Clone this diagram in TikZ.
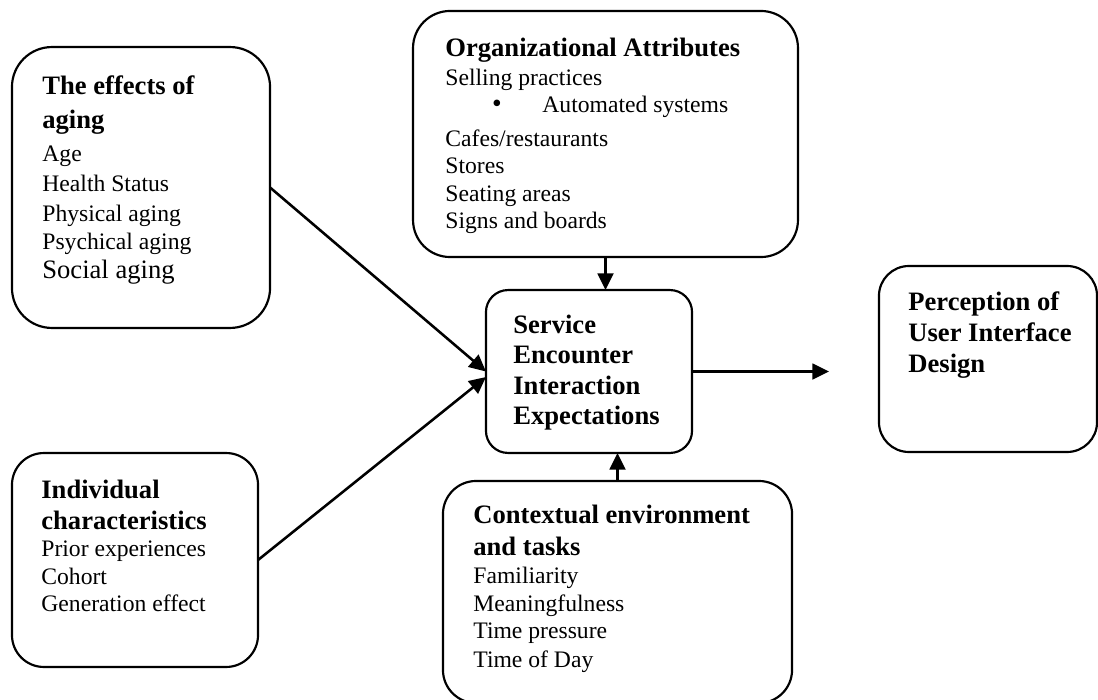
\documentclass[tikz,border=0pt]{standalone}
\usepackage{fontspec}
\setmainfont{Liberation Serif}
\usetikzlibrary{arrows.meta}
\begin{document}
\begin{tikzpicture}[x=0.5076pt,y=-0.5076pt,
  box/.style={draw,line width=1.1pt,rectangle,inner sep=0pt,outer sep=0pt},
  ln/.style={anchor=base west,inner sep=0pt,font=\fontsize{12}{14}\selectfont},
  big/.style={anchor=base west,inner sep=0pt,font=\fontsize{13.5}{16}\selectfont},
  hd/.style={anchor=base west,inner sep=0pt,font=\fontsize{13.5}{16}\selectfont\bfseries},
  arr/.style={line width=1.3pt,-{Triangle[length=8.5pt,width=8pt]}}]
\useasboundingbox (0,0) rectangle (1098,700);
% boxes
\node[box,rounded corners=20.3pt,minimum width=131pt,minimum height=142.6pt] (A) at (141,187.5) {};
\node[box,rounded corners=18.8pt,minimum width=195.4pt,minimum height=124.9pt] (O) at (605.5,134) {};
\node[box,rounded corners=16.2pt,minimum width=124.9pt,minimum height=108.6pt] (B) at (135,560) {};
\node[box,rounded corners=11.2pt,minimum width=104.6pt,minimum height=82.7pt] (C) at (589,371.5) {};
\node[box,rounded corners=15.2pt,minimum width=110.7pt,minimum height=94.4pt] (D) at (988,359) {};
\node[box,rounded corners=16.8pt,minimum width=177.2pt,minimum height=112.7pt] (E) at (617.5,592) {};
% texts: effects of aging
\node[hd] (a1) at (42,95) {The effects of};
\node[hd] (a2) at (42,129) {aging};
\node[ln] (a3) at (42,162) {Age};
\node[ln] (a4) at (42,192) {Health Status};
\node[ln] (a5) at (42,221) {Physical aging};
\node[ln] (a6) at (42,249) {Psychical aging};
\node[big] (a7) at (42,278) {Social aging};
% organizational attributes
\node[hd] (o1) at (445,57) {Organizational Attributes};
\node[ln] (o2) at (445,86) {Selling practices};
\node[ln,anchor=base,font=\fontsize{14}{16}\selectfont] (o3) at (497,113) {•};
\node[ln] (o4) at (542,113) {Automated systems};
\node[ln] (o5) at (445,147) {Cafes/restaurants};
\node[ln] (o6) at (445,174) {Stores};
\node[ln] (o7) at (445,202) {Seating areas};
\node[ln] (o8) at (445,229) {Signs and boards};
% individual characteristics
\node[hd] (b1) at (41,498) {Individual};
\node[hd] (b2) at (41,529) {characteristics};
\node[ln] (b3) at (41,556) {Prior experiences};
\node[ln] (b4) at (41,584) {Cohort};
\node[ln] (b5) at (41,611) {Generation effect};
% service encounter
\node[hd] (c1) at (513,333) {Service};
\node[hd] (c2) at (513,363) {Encounter};
\node[hd] (c3) at (513,394) {Interaction};
\node[hd] (c4) at (513,424) {Expectations};
% perception
\node[hd] (d1) at (908,310) {Perception of};
\node[hd] (d2) at (908,341) {User Interface};
\node[hd] (d3) at (908,372) {Design};
% contextual
\node[hd] (e1) at (473,523) {Contextual environment};
\node[hd] (e2) at (473,555) {and tasks};
\node[ln] (e3) at (473,583) {Familiarity};
\node[ln] (e4) at (473,611) {Meaningfulness};
\node[ln] (e5) at (473,638) {Time pressure};
\node[ln] (e6) at (473,667) {Time of Day};
% connectors
\coordinate (out) at (829,371.5);
\draw[arr] (A.east) -- (C.west);
\draw[arr] (B.east) -- ([yshift=-2.8pt]C.west);
\draw[arr] (O.south) -- (O.south |- C.north);
\draw[arr] (E.north) -- (E.north |- C.south);
\draw[arr] (C.east) -- (out);
\end{tikzpicture}
\end{document}
